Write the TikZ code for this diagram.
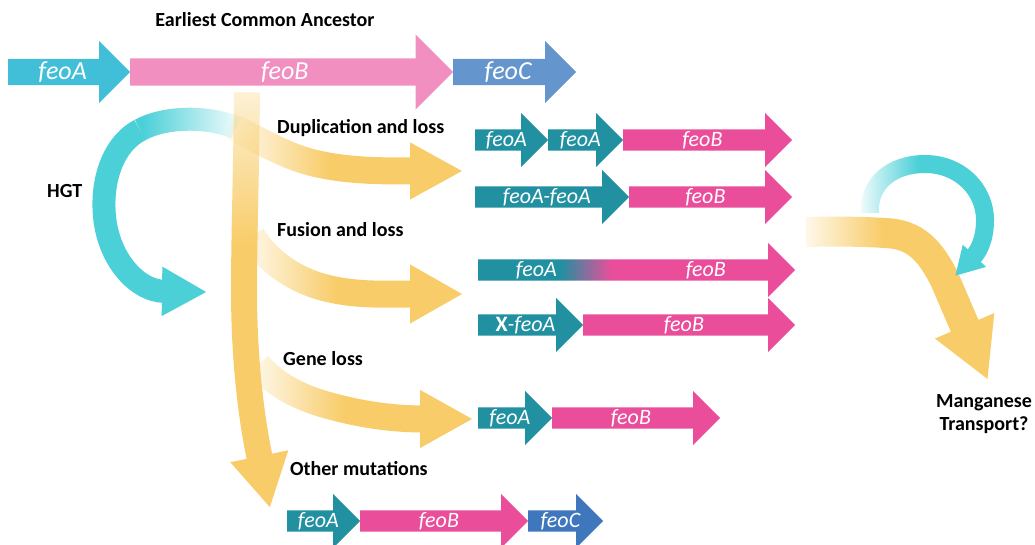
\documentclass[tikz,border=0pt]{standalone}
\usepackage{fontspec}
\setmainfont{Carlito}
\usetikzlibrary{shapes.arrows,arrows.meta,fadings}

\definecolor{ancA}{HTML}{41BFD9}
\definecolor{ancB}{HTML}{F190C0}
\definecolor{ancC}{HTML}{6495CD}
\definecolor{geneA}{HTML}{2190A0}
\definecolor{geneB}{HTML}{EA4E9B}
\definecolor{geneC}{HTML}{3F77BD}
\definecolor{flow}{HTML}{F8CC68}
\definecolor{hgt}{HTML}{4BD0D8}

\pgfdeclarehorizontalshading{fuseshade}{100bp}{color(0bp)=(geneA); color(38bp)=(geneA); color(46bp)=(geneB); color(100bp)=(geneB)}
\pgfdeclarehorizontalshading{inbranch}{100bp}{color(0bp)=(black); color(27bp)=(black); color(47bp)=(white); color(100bp)=(white)}
\pgfdeclarehorizontalshading{inhgt}{100bp}{color(0bp)=(white); color(32bp)=(white); color(73bp)=(black); color(100bp)=(black)}
\pgfdeclareverticalshading{intrunk}{100bp}{color(0bp)=(white); color(56bp)=(white); color(80bp)=(black); color(100bp)=(black)}
\pgfdeclarefading{branchfade}{\pgfuseshading{inbranch}}
\pgfdeclarefading{hgtfade}{\pgfuseshading{inhgt}}
\pgfdeclarefading{trunkfade}{\pgfuseshading{intrunk}}

\tikzset{
  gene/.style={single arrow, anchor=tail, inner sep=0pt, text=white, draw=none,
    single arrow head indent=0pt, minimum width=54pt, single arrow head extend=14pt,
    font=\fontsize{22}{24}\selectfont\itshape},
  ancgene/.style={gene, minimum width=62pt, single arrow head extend=14.5pt,
    font=\fontsize{26}{28}\selectfont\itshape},
  title/.style={font=\fontsize{20}{22}\selectfont\bfseries, inner sep=0pt, anchor=west},
  flowband/.style={draw=flow, line width=27pt, path fading=branchfade},
  hgtband/.style={draw=hgt, line width=23pt}
}

\begin{document}
\begin{tikzpicture}[x=1pt, y=-1pt]
\useasboundingbox (0,0) rectangle (1035,544);

\coordinate (hgt-in) at (207,292);
\coordinate (dup-in) at (463,171);
\coordinate (fus-in) at (463,294);
\coordinate (loss-in) at (473,419);
\coordinate (mut-in) at (270,508);
\coordinate (mn-in) at (988,380);
\coordinate (loop-in) at (955,276);

% HGT
\draw[hgtband, path fading=hgtfade] (136,104) (240,146) (236,128) .. controls (215,118) and (170,114) .. (140,130);
\draw[hgtband, -{Triangle[width=46pt,length=45pt]}] (140,130) .. controls (115,143) and (103,175) .. (104,208)
  .. controls (105,255) and (135,291) .. (hgt-in);

% branches
\draw[flowband, -{Triangle[width=53pt,length=53pt]}] (226,100) (466,200)
  (230,126) .. controls (260,140) and (285,157) .. (318,164) .. controls (350,171) and (380,171) .. (dup-in);
\draw[flowband, -{Triangle[width=55pt,length=53pt]}] (238,215) (466,325)
  (252,236) .. controls (265,258) and (290,278) .. (322,287) .. controls (355,296) and (385,294) .. (fus-in);
\draw[flowband, -{Triangle[width=54pt,length=53pt]}] (244,345) (476,450)
  (258,365) .. controls (275,385) and (300,398) .. (330,406) .. controls (360,414) and (390,419) .. (loss-in);

% trunk
\draw[flowband, line width=26pt, path fading=trunkfade, -{Triangle[width=55pt,length=53pt]}] (226,90) (290,510)
  (247,92) .. controls (246,180) and (244,240) .. (244,290) .. controls (244,380) and (256,440) .. (mut-in);

% manganese
\draw[flowband, line width=30pt, -{Triangle[width=60pt,length=59pt]}] (800,210) (992,384)
  (806,232) .. controls (840,231) and (870,232) .. (885,233) .. controls (915,234) and (930,250) .. (945,280) -- (mn-in);
\draw[hgtband, line width=18pt, path fading=branchfade, -{Triangle[width=30pt,length=28pt]}] (858,150) (996,280)
  (870,213) .. controls (868,185) and (890,164) .. (925,164) .. controls (960,164) and (985,190) .. (985,220)
  .. controls (985,240) and (978,252) .. (loop-in);

% ancestor
\node[ancgene, fill=ancA, minimum height=122pt] (anc-a) at (8,72) {feoA};
\node[ancgene, fill=ancB, minimum height=323pt, minimum width=75pt, single arrow head extend=18.5pt] (anc-b) at (130,72) {feoB};
\node[ancgene, fill=ancC, minimum height=123pt] (anc-c) at (453,72) {feoC};

% duplication
\node[gene, fill=geneA, minimum height=73pt] (dup-a1) at (475,140) {feoA};
\node[gene, fill=geneA, minimum height=75pt] (dup-a2) at (548,140) {feoA};
\node[gene, fill=geneB, minimum height=169pt] (dup-b1) at (623,140) {feoB};
\node[gene, fill=geneA, minimum height=154pt] (dup-aa) at (475,197) {feoA-feoA};
\node[gene, fill=geneB, minimum height=163pt] (dup-b2) at (629,197) {feoB};

% fusion
\node[gene, shade, shading=fuseshade, minimum height=317pt] (fus-ab) at (478,270) {feoA\hspace{129pt}feoB\hspace{21pt}\mbox{}};
\node[gene, fill=geneA, minimum height=105pt] (fus-xa) at (478,325) {\textbf{\upshape X}-feoA};
\node[gene, fill=geneB, minimum height=212pt] (fus-b) at (583,325) {feoB};

% gene loss
\node[gene, fill=geneA, minimum height=74pt] (loss-a) at (478,418) {feoA};
\node[gene, fill=geneB, minimum height=168pt] (loss-b) at (552,418) {feoB};

% other mutations
\node[gene, fill=geneA, minimum height=73pt] (mut-a) at (287,521) {feoA};
\node[gene, fill=geneB, minimum height=168pt] (mut-b) at (360,521) {feoB};
\node[gene, fill=geneC, minimum height=75pt] (mut-c) at (528,521) {feoC};

\node[title, anchor=center] (anc-title) at (265,20) {Earliest Common Ancestor};
\node[title] (dup-title) at (277,128) {Duplication and loss};
\node[title] (fus-title) at (277,230) {Fusion and loss};
\node[title] (loss-title) at (283,359) {Gene loss};
\node[title] (mut-title) at (290,469) {Other mutations};
\node[title] (hgt-title) at (47,191) {HGT};
\node[title, anchor=center, align=center] (mn-title) at (984,414) {Manganese\\[1pt]Transport?};
\end{tikzpicture}
\end{document}
